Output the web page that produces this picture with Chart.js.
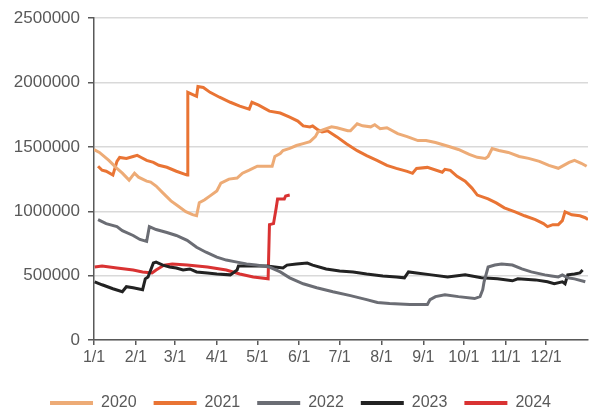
<!DOCTYPE html>
<html>
<head>
<meta charset="utf-8">
<script src="https://cdn.jsdelivr.net/npm/chart.js@4"></script>
<style>
  html, body { margin: 0; padding: 0; background: #ffffff; }
  #wrap { width: 590px; height: 414px; position: relative; }
</style>
</head>
<body>
<div id="wrap"><canvas id="c"></canvas></div>
<script>
// Tick labels (month starts, day-of-year)
const monthDays = [0, 31, 60, 91, 121, 152, 182, 213, 244, 274, 305, 335];
const monthLabels = ['1/1','2/1','3/1','4/1','5/1','6/1','7/1','8/1','9/1','10/1','11/1','12/1'];
const yTicks = [0, 500000, 1000000, 1500000, 2000000, 2500000];

const seriesNames = ['2020', '2021', '2022', '2023', '2024'];

// 2020
const d2020 = [0,4,11,17,21,26,30,33,39,42,46,51,57,62,68,73,76,78,82,86,91,94,100,106,110,115,121,125,132,134,138,140,145,150,155,160,164,166,170,176,180,188,190,195,199,205,208,212,217,225,232,240,246,253,263,270,278,284,290,292,295,300,307,315,322,330,337,344,348,352,356,361,365];
const v2020 = [1480000,1457000,1396000,1334000,1296000,1242000,1296000,1265000,1234000,1227000,1196000,1143000,1081000,1043000,997000,974000,966000,1066000,1089000,1120000,1158000,1219000,1250000,1258000,1296000,1319000,1350000,1350000,1350000,1426000,1449000,1472000,1488000,1511000,1526000,1541000,1580000,1618000,1634000,1656000,1649000,1626000,1626000,1680000,1664000,1656000,1672000,1641000,1649000,1603000,1580000,1549000,1549000,1534000,1503000,1480000,1442000,1419000,1411000,1426000,1488000,1472000,1457000,1426000,1411000,1388000,1357000,1334000,1357000,1380000,1396000,1373000,1350000];

// 2021
const d2021 = [3,6,9,14,17,19,24,29,32,35,39,44,48,54,61,69,69.5,76,77,81,86,93,101,108,115,117,122,130,138,145,151,155,160,162,166,169,173,180,187,195,202,210,217,224,232,236,239,247,258,260,264,269,275,280,284,292,298,304,312,319,327,333,336,340,344,347,349,354,360,364,366];
const v2021 = [1350000,1319000,1311000,1281000,1388000,1418000,1411000,1426000,1434000,1418000,1395000,1380000,1357000,1342000,1311000,1281000,1924000,1893000,1970000,1962000,1924000,1886000,1847000,1817000,1794000,1847000,1824000,1778000,1763000,1732000,1701000,1663000,1655000,1663000,1632000,1617000,1625000,1578000,1525000,1471000,1433000,1394000,1356000,1333000,1310000,1295000,1333000,1341000,1303000,1326000,1318000,1272000,1234000,1180000,1126000,1096000,1065000,1027000,996000,965000,935000,904000,881000,896000,896000,927000,996000,973000,965000,950000,935000];

// 2022
const d2022 = [3,9,17,21,29,34,39,41,46,54,61,69,76,83,91,98,106,113,120,130,138,145,155,165,177,190,202,210,219,234,247,249,253,260,270,282,286,288,289,292,297,302,310,317,324,334,339,344,347,351,356,364];
const v2022 = [935000,904000,881000,850000,812000,781000,766000,881000,858000,835000,812000,774000,720000,682000,644000,621000,605000,590000,582000,567000,529000,483000,437000,406000,375000,345000,314000,291000,283000,276000,276000,314000,337000,352000,337000,322000,337000,391000,452000,567000,582000,590000,582000,552000,529000,506000,498000,490000,506000,483000,475000,452000];

// 2023
const d2023 = [0.5,6,14,21,24,29,36,38,40,44,46,51,56,61,66,71,76,84,91,101,106,107,115,128,140,143,150,158,162,172,182,192,202,214,224,230,233,239,250,262,275,287,299,310,314,327,336,341,347,349,351,356,360,362];
const v2023 = [452000,429000,398000,375000,414000,406000,391000,475000,490000,598000,605000,582000,567000,559000,544000,552000,529000,521000,513000,506000,544000,575000,575000,575000,559000,582000,590000,598000,582000,552000,536000,529000,513000,498000,490000,483000,529000,521000,506000,490000,506000,483000,475000,460000,475000,467000,452000,437000,452000,437000,506000,513000,521000,544000];

// 2024
const d2024 = [0.5,6,17,29,36,43,46,52,58,69,84,98,108,118,129,130,133,135,136,141,142,145];
const v2024 = [567000,575000,559000,544000,529000,521000,544000,582000,590000,582000,567000,544000,513000,490000,475000,896000,904000,1027000,1096000,1096000,1119000,1126000];

const colors = ['#EDAB76', '#E97434', '#6B6D74', '#222222', '#D93232'];

const allDays = [d2020, d2021, d2022, d2023, d2024];
const allVals = [v2020, v2021, v2022, v2023, v2024];

const datasets = seriesNames.map((name, k) => ({
  label: name,
  data: allDays[k].map((d, i) => ({ x: d, y: allVals[k][i] })),
  borderColor: colors[k],
  backgroundColor: colors[k],
  borderWidth: 3,
  pointRadius: 0,
  tension: 0,
  fill: false
}));

const FONT = 'Arial, "Liberation Sans", sans-serif';
const TXT = '#595959';

new Chart(document.getElementById('c'), {
  type: 'line',
  data: { datasets },
  options: {
    responsive: true,
    maintainAspectRatio: false,
    animation: false,
    layout: { padding: { left: 13, right: 2, top: -3, bottom: -7 } },
    plugins: {
      tooltip: { enabled: false },
      legend: {
        position: 'bottom',
        labels: {
          boxWidth: 43,
          boxHeight: 4,
          padding: 17,
          color: TXT,
          font: { family: FONT, size: 16 },
          generateLabels: (chart) =>
            Chart.defaults.plugins.legend.labels.generateLabels(chart).map(l => ({
              ...l, lineWidth: 0, fillStyle: l.strokeStyle
            }))
        }
      }
    },
    scales: {
      x: {
        type: 'linear',
        min: 0,
        max: 366,
        afterBuildTicks: (axis) => { axis.ticks = monthDays.map(v => ({ value: v })); },
        afterFit: (axis) => { axis.height = 38; },
        grid: { drawOnChartArea: false, tickLength: 5, tickColor: TXT, lineWidth: 1.5 },
        border: { color: TXT, width: 1.5 },
        ticks: {
          autoSkip: false,
          maxRotation: 0,
          padding: 3,
          color: TXT,
          font: { family: FONT, size: 16 },
          callback: (v) => { const i = monthDays.indexOf(v); return i >= 0 ? monthLabels[i] : ''; }
        }
      },
      y: {
        min: 0,
        max: 2500000,
        afterBuildTicks: (axis) => { axis.ticks = yTicks.map(v => ({ value: v })); },
        afterFit: (axis) => { axis.width = 81; },
        grid: { color: '#d9d9d9', lineWidth: 1.5, tickLength: 6, tickColor: TXT },
        border: { color: TXT, width: 1.5 },
        ticks: {
          padding: 8,
          color: TXT,
          font: { family: FONT, size: 17 },
          callback: (v) => String(v)
        }
      }
    }
  }
});
</script>
</body>
</html>
